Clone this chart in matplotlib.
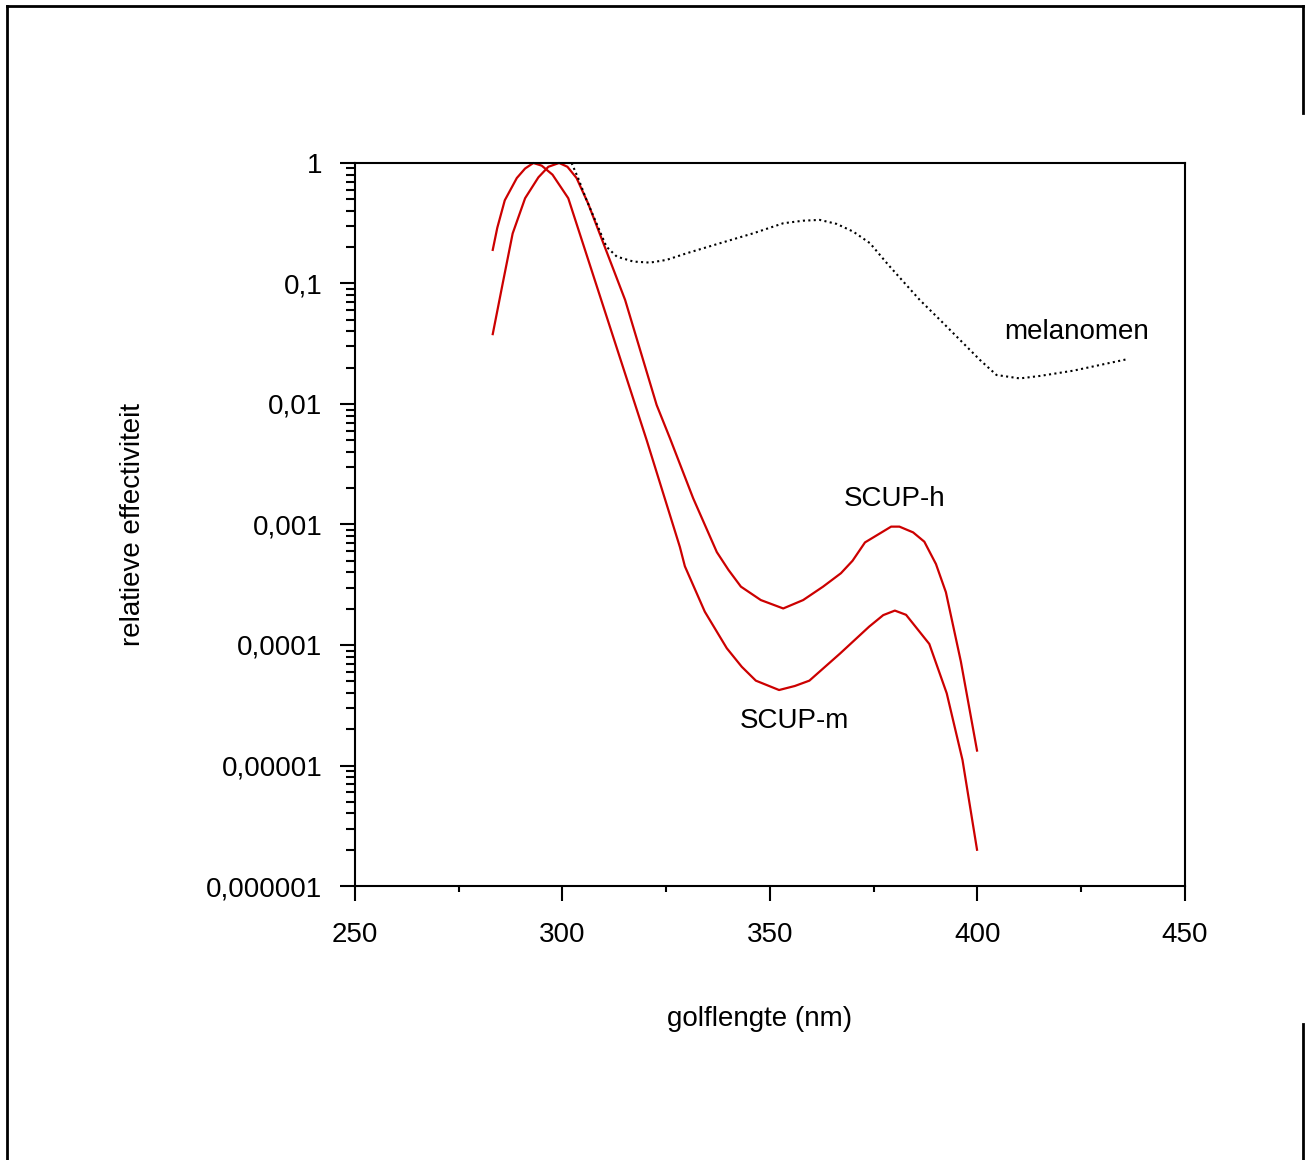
import matplotlib
matplotlib.use("Agg")
import matplotlib.pyplot as plt
from matplotlib.lines import Line2D
from matplotlib.ticker import LogLocator, MultipleLocator, NullFormatter

plt.rcParams["font.family"] = ["Liberation Sans", "DejaVu Sans"]

# golflengte (nm) / relatieve effectiviteit
scup_h_nm = [283.2, 285.6, 288.0, 291.0, 294.2, 296.6, 299.2, 301.2, 303.4, 306.2,
             315.1, 322.7, 325.9, 331.5, 337.2, 340.0, 343.0, 347.8, 353.2, 358.0,
             362.8, 367.1, 369.9, 372.9, 379.2, 381.2, 384.5, 387.2, 390.0, 392.4,
             396.0, 399.9]
scup_h_val = [0.038, 0.10, 0.26, 0.51, 0.76, 0.93, 1.0, 0.93, 0.75, 0.46,
              0.073, 0.0098, 0.0052, 1.65e-3, 5.9e-4, 4.2e-4, 3.05e-4, 2.36e-4, 2.01e-4, 2.36e-4,
              3.05e-4, 3.94e-4, 5.0e-4, 7.1e-4, 9.6e-4, 9.6e-4, 8.6e-4, 7.2e-4, 4.7e-4, 2.74e-4,
              7.3e-5, 1.33e-5]

scup_m_nm = [283.2, 284.3, 286.1, 289.0, 291.0, 293.0, 295.0, 297.6, 301.4, 320.3,
             328.3, 329.5, 334.3, 339.6, 343.2, 346.6, 352.2, 356.0, 359.5, 366.9,
             373.9, 377.3, 380.1, 382.8, 388.4, 392.6, 396.4, 399.9]
scup_m_val = [0.19, 0.29, 0.49, 0.75, 0.90, 1.0, 0.95, 0.80, 0.51, 0.005,
              6.5e-4, 4.5e-4, 1.89e-4, 9.4e-5, 6.6e-5, 5.06e-5, 4.23e-5, 4.57e-5, 5.06e-5, 8.5e-5,
              1.42e-4, 1.77e-4, 1.93e-4, 1.78e-4, 1.02e-4, 3.97e-5, 1.11e-5, 2.0e-6]

mel_nm = [302.2, 303.8, 305.8, 308.2, 310.6, 313.1, 317.1, 321.1, 325.1, 329.9,
          338.0, 346.0, 353.2, 358.0, 362.0, 366.1, 370.1, 374.1, 378.5, 386.1,
          391.0, 395.8, 400.6, 404.6, 410.2, 415.1, 423.1, 436.0]
mel_val = [1.0, 0.746, 0.493, 0.316, 0.202, 0.167, 0.152, 0.149, 0.157, 0.178,
           0.216, 0.261, 0.316, 0.332, 0.337, 0.312, 0.269, 0.216, 0.143, 0.073,
           0.0498, 0.034, 0.0232, 0.0174, 0.0163, 0.0171, 0.0189, 0.0235]

y_ticks = [1e-6, 1e-5, 1e-4, 1e-3, 1e-2, 1e-1, 1]
y_labels = ["0,000001", "0,00001", "0,0001", "0,001", "0,01", "0,1", "1"]
x_ticks = [250, 300, 350, 400, 450]

red = "#cc0000"
fs = 20

fig = plt.figure(figsize=(13.05, 11.6), dpi=100)
ax = fig.add_axes([0.2720, 0.2362, 0.6360, 0.6233])

ax.plot(scup_h_nm, scup_h_val, color=red, lw=1.6, clip_on=False)
ax.plot(scup_m_nm, scup_m_val, color=red, lw=1.6, clip_on=False)
ax.plot(mel_nm, mel_val, color="black", lw=1.5, linestyle=(0, (1, 1.6)), clip_on=False)

ax.set_yscale("log")
ax.set_xlim(250, 450)
ax.set_ylim(1e-6, 1)
ax.set_yticks(y_ticks, y_labels)
ax.yaxis.set_minor_locator(LogLocator(base=10, subs=range(2, 10)))
ax.yaxis.set_minor_formatter(NullFormatter())
ax.set_xticks(x_ticks)
ax.xaxis.set_minor_locator(MultipleLocator(25))

ax.tick_params(axis="both", which="major", direction="out", length=10.5, width=1.5,
               labelsize=fs)
ax.tick_params(axis="x", which="major", pad=15.5)
ax.tick_params(axis="y", which="major", pad=13)
ax.tick_params(axis="y", which="minor", direction="out", length=6.5, width=1.5)
ax.tick_params(axis="x", which="minor", direction="out", length=4.5, width=1.5)
for side in ax.spines.values():
    side.set_linewidth(1.5)

ax.set_xlabel("golflengte (nm)", fontsize=fs, labelpad=40)
ax.set_ylabel("relatieve effectiviteit", fontsize=fs, labelpad=43)
ax.xaxis.set_label_coords(0.488, -0.166)

ax.text(380.1, 1.63e-3, "SCUP-h", fontsize=fs, ha="center", va="center")
ax.text(356.0, 2.34e-5, "SCUP-m", fontsize=fs, ha="center", va="center")
ax.text(424.0, 0.0395, "melanomen", fontsize=fs, ha="center", va="center")

# outer frame of the original figure
for xs, ys in [([0.0054, 0.0054], [0.0, 0.9948]),
               ([0.0054, 0.9985], [0.9948, 0.9948]),
               ([0.9985, 0.9985], [0.9948, 0.903]),
               ([0.9985, 0.9985], [0.117, 0.0])]:
    fig.add_artist(Line2D(xs, ys, color="black", lw=2, transform=fig.transFigure))

fig.savefig("out.png", dpi=100)
